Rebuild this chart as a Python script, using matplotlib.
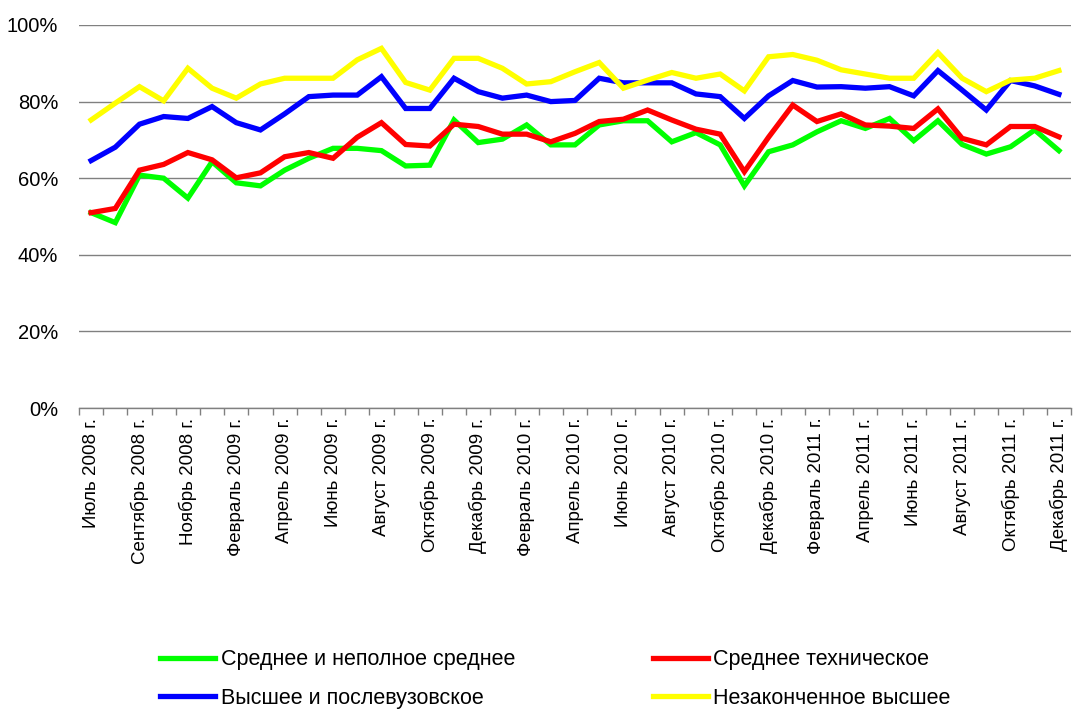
import matplotlib
matplotlib.use("Agg")
import matplotlib.pyplot as plt
from matplotlib.ticker import FixedLocator, PercentFormatter

months = ["Июль 2008 г.", "Август 2008 г.", "Сентябрь 2008 г.", "Октябрь 2008 г.", "Ноябрь 2008 г.",
          "Декабрь 2008 г.", "Февраль 2009 г.", "Март 2009 г.", "Апрель 2009 г.", "Май 2009 г.",
          "Июнь 2009 г.", "Июль 2009 г.", "Август 2009 г.", "Сентябрь 2009 г.", "Октябрь 2009 г.",
          "Ноябрь 2009 г.", "Декабрь 2009 г.", "Январь 2010 г.", "Февраль 2010 г.", "Март 2010 г.",
          "Апрель 2010 г.", "Май 2010 г.", "Июнь 2010 г.", "Июль 2010 г.", "Август 2010 г.",
          "Сентябрь 2010 г.", "Октябрь 2010 г.", "Ноябрь 2010 г.", "Декабрь 2010 г.", "Январь 2011 г.",
          "Февраль 2011 г.", "Март 2011 г.", "Апрель 2011 г.", "Май 2011 г.", "Июнь 2011 г.",
          "Июль 2011 г.", "Август 2011 г.", "Сентябрь 2011 г.", "Октябрь 2011 г.", "Ноябрь 2011 г.",
          "Декабрь 2011 г."]

secondary = [51.0, 48.4, 60.8, 60.0, 54.8, 64.3, 58.8, 58.0, 62.1, 65.2,
             67.8, 67.8, 67.2, 63.2, 63.4, 75.2, 69.3, 70.2, 73.9, 68.7,
             68.7, 73.9, 75.0, 75.0, 69.5, 71.9, 68.7, 58.0, 66.9, 68.7,
             72.1, 75.0, 73.0, 75.6, 69.8, 75.0, 68.8, 66.3, 68.2, 72.6,
             67.2]
technical = [51.0, 52.1, 62.1, 63.6, 66.7, 64.8, 60.1, 61.4, 65.6, 66.7,
             65.2, 70.7, 74.5, 68.8, 68.4, 74.1, 73.5, 71.5, 71.5, 69.5,
             71.7, 74.8, 75.4, 77.8, 75.2, 72.8, 71.5, 61.7, 70.7, 79.1,
             74.8, 76.8, 73.9, 73.6, 73.0, 78.1, 70.4, 68.7, 73.5, 73.5,
             70.8]
higher = [64.6, 68.1, 74.1, 76.1, 75.6, 78.7, 74.5, 72.6, 76.8, 81.3,
          81.7, 81.7, 86.5, 78.2, 78.2, 86.1, 82.6, 80.9, 81.7, 80.0,
          80.3, 86.1, 84.9, 84.9, 84.9, 82.0, 81.3, 75.6, 81.5, 85.5,
          83.8, 83.9, 83.5, 83.9, 81.5, 88.1, 83.0, 77.8, 85.5, 84.1,
          81.9]
incomplete = [75.2, 79.6, 83.9, 80.2, 88.7, 83.5, 80.9, 84.6, 86.1, 86.1,
              86.1, 90.9, 93.9, 85.0, 83.0, 91.3, 91.3, 88.7, 84.6, 85.2,
              87.8, 90.2, 83.5, 85.6, 87.6, 86.1, 87.2, 82.8, 91.7, 92.3,
              90.8, 88.3, 87.2, 86.1, 86.1, 92.8, 86.1, 82.6, 85.6, 86.1,
              88.1]

series_names = ["Среднее и неполное среднее", "Среднее техническое",
                "Высшее и послевузовское", "Незаконченное высшее"]
colors = ["#00FF00", "#FF0000", "#0000FF", "#FFFF00"]

plt.rcParams['font.family'] = ['Liberation Sans', 'DejaVu Sans']

fig = plt.figure(figsize=(10.83, 7.11), dpi=100)
ax = fig.add_axes([79/1083, 1 - 408/711, (1071 - 79)/1083, (408 - 25)/711])

x = list(range(len(months)))
lines = []
for vals, name, c in zip([secondary, technical, higher, incomplete], series_names, colors):
    ln, = ax.plot(x, vals, color=c, lw=3.8, label=name, solid_joinstyle='miter')
    lines.append(ln)

ax.set_xlim(-0.5, len(months) - 0.5)
ax.set_ylim(0, 100)
ax.yaxis.set_major_locator(FixedLocator([0, 20, 40, 60, 80, 100]))
ax.yaxis.set_major_formatter(PercentFormatter(decimals=0))
ax.grid(axis='y', color='#808080', lw=1)
ax.set_axisbelow(True)
for s in ['left', 'right', 'top']:
    ax.spines[s].set_visible(False)
ax.spines['bottom'].set_color('#808080')
ax.spines['bottom'].set_linewidth(1)

ax.set_xticks(x[::2])
ax.set_xticklabels(months[::2], rotation=90, fontsize=13.5)
ax.set_xticks([i - 0.5 for i in range(len(months) + 1)], minor=True)
ax.tick_params(axis='x', which='major', length=0, pad=7)
ax.tick_params(axis='x', which='minor', length=5, color='#808080', width=1)
ax.tick_params(axis='y', length=0, pad=15, labelsize=14.5)

order = [0, 2, 1, 3]
leg = fig.legend([lines[i] for i in order], [series_names[i] for i in order],
                 loc='upper left', bbox_to_anchor=(141/1083, 1 - 630/711), ncol=2,
                 frameon=False, fontsize=15.5, handlelength=2.55, handletextpad=0.25,
                 columnspacing=6.4, labelspacing=0.82)

fig.savefig("out.png", dpi=100)
